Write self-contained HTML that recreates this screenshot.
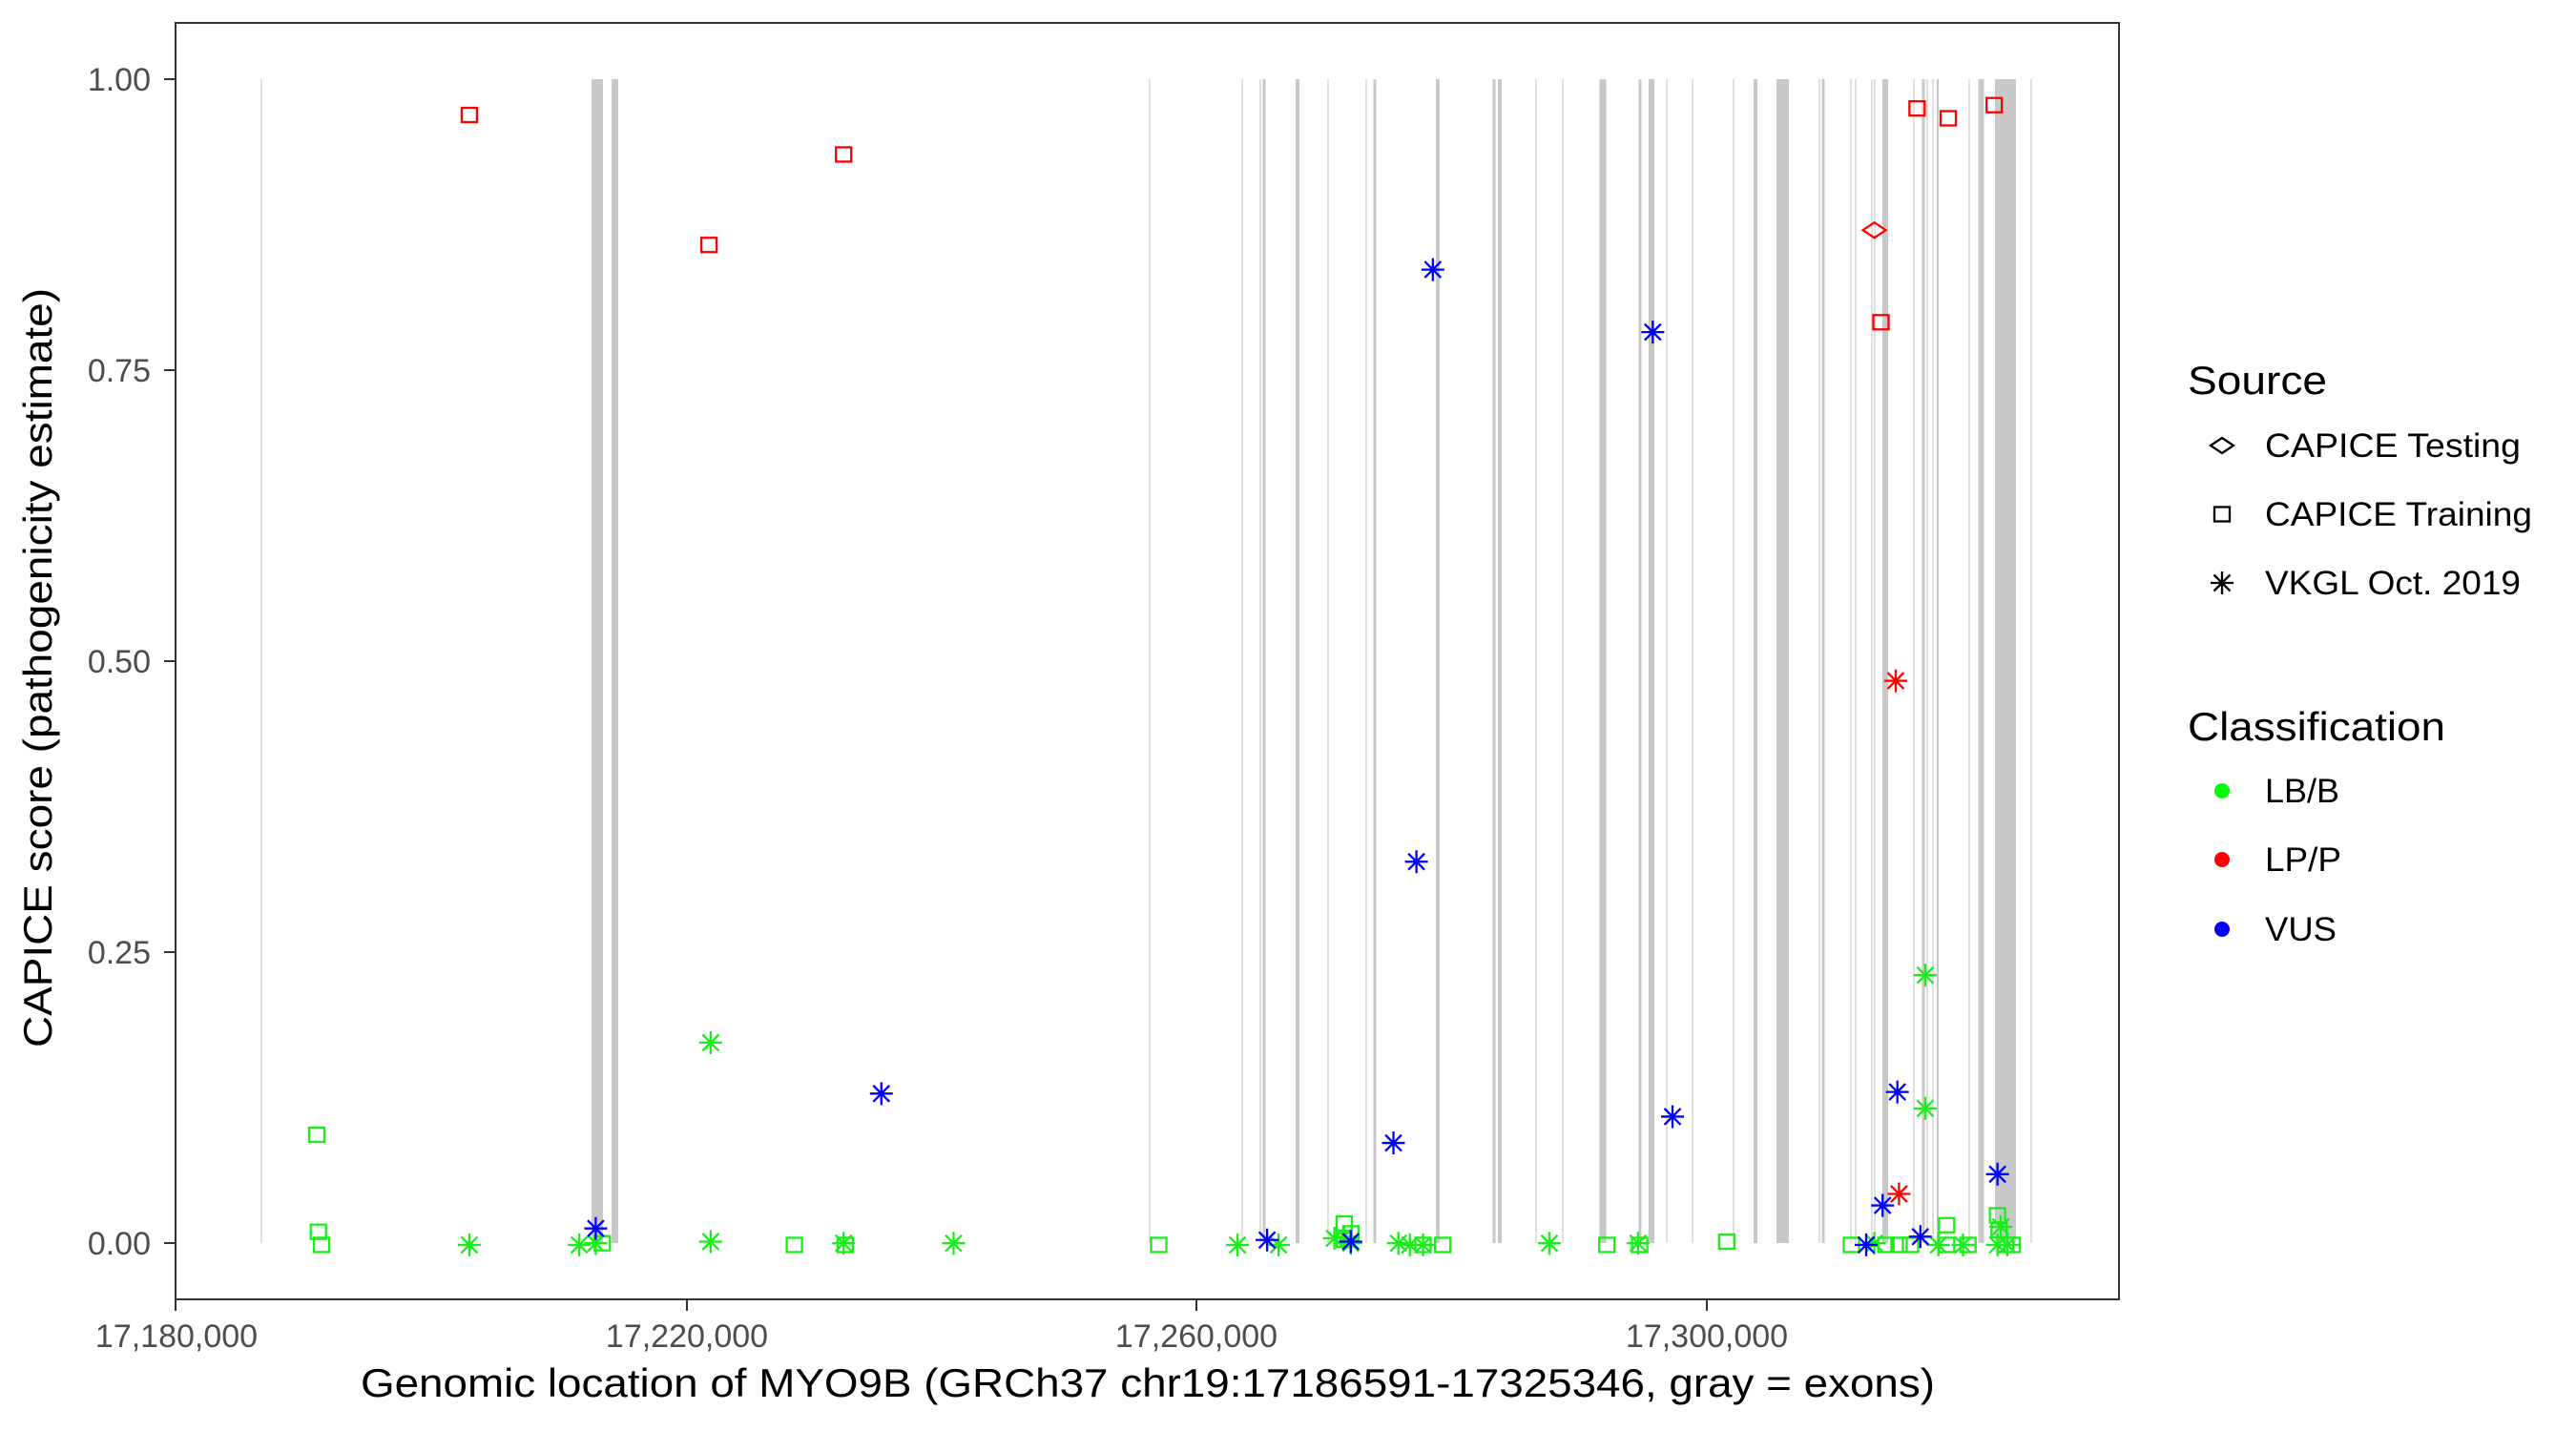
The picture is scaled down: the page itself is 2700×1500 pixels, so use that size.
<!DOCTYPE html>
<html><head><meta charset="utf-8"><style>
html,body{margin:0;padding:0;background:#fff;}
svg{display:block;font-family:"Liberation Sans",Arial,sans-serif;}
</style></head><body>
<svg id="s" width="2700" height="1500" viewBox="0 0 2700 1500" xmlns="http://www.w3.org/2000/svg">
<rect width="2700" height="1500" fill="#fff"/>
<g id="exons"></g>
<g id="pts"></g>
<rect x="184" y="24" width="2037" height="1338" fill="none" stroke="#333" stroke-width="2"/>
<g stroke="#333" stroke-width="2">
<line x1="172" y1="83" x2="184" y2="83"/><line x1="172" y1="388" x2="184" y2="388"/>
<line x1="172" y1="693" x2="184" y2="693"/><line x1="172" y1="998" x2="184" y2="998"/>
<line x1="172" y1="1303" x2="184" y2="1303"/>
<line x1="184" y1="1362" x2="184" y2="1374"/><line x1="720" y1="1362" x2="720" y2="1374"/>
<line x1="1254" y1="1362" x2="1254" y2="1374"/><line x1="1789" y1="1362" x2="1789" y2="1374"/>
</g>
<g font-size="34" fill="#4d4d4d" text-anchor="end">
<text x="158" y="95">1.00</text><text x="158" y="400">0.75</text><text x="158" y="705">0.50</text>
<text x="158" y="1010">0.25</text><text x="158" y="1315">0.00</text>
</g>
<g font-size="34" fill="#4d4d4d" text-anchor="middle">
<text x="185" y="1412">17,180,000</text><text x="720" y="1412">17,220,000</text>
<text x="1254" y="1412">17,260,000</text><text x="1789" y="1412">17,300,000</text>
</g>
<text x="378" y="1464" font-size="42" fill="#000" textLength="1650" lengthAdjust="spacingAndGlyphs">Genomic location of MYO9B (GRCh37 chr19:17186591-17325346, gray = exons)</text>
<text transform="translate(54,1098) rotate(-90)" font-size="42" fill="#000" textLength="796" lengthAdjust="spacingAndGlyphs">CAPICE score (pathogenicity estimate)</text>
<g fill="#000">
<text x="2293" y="413" font-size="42" textLength="146" lengthAdjust="spacingAndGlyphs">Source</text>
<text x="2374" y="479" font-size="35" textLength="268" lengthAdjust="spacingAndGlyphs">CAPICE Testing</text>
<text x="2374" y="551" font-size="35" textLength="280" lengthAdjust="spacingAndGlyphs">CAPICE Training</text>
<text x="2374" y="623" font-size="35" textLength="268" lengthAdjust="spacingAndGlyphs">VKGL Oct. 2019</text>
<text x="2293" y="776" font-size="42" textLength="270" lengthAdjust="spacingAndGlyphs">Classification</text>
<text x="2374" y="841" font-size="35" textLength="78" lengthAdjust="spacingAndGlyphs">LB/B</text>
<text x="2374" y="913" font-size="35" textLength="80" lengthAdjust="spacingAndGlyphs">LP/P</text>
<text x="2374" y="986" font-size="35" textLength="75" lengthAdjust="spacingAndGlyphs">VUS</text>
</g>
<g id="leg"></g>
</svg>
<script>
var NS="http://www.w3.org/2000/svg";
function el(p,t,a){var e=document.createElementNS(NS,t);for(var k in a)e.setAttribute(k,a[k]);p.appendChild(e);return e;}
var ex=document.getElementById("exons");
var exons=[[274,1.5],[626,12],[644.5,7],[1205,1.5],[1302,1.5],[1321,1.5],[1325,3],[1360,4],[1392,1.5],[1432,1.5],[1441,3],[1507,4],[1566,3],[1572,4],[1610,1.5],[1638,1.5],[1680,7],[1719,3],[1731,6],[1747,1.5],[1774,1.5],[1817,1.5],[1840,4],[1868.5,13],[1907,1.5],[1911,3],[1940,1.5],[1945,1.5],[1962,1.5],[1965,1.5],[1976,6],[2006,1.5],[2016,3],[2020,1.5],[2026,1.5],[2031,2],[2064,1.5],[2074,1.5],[2077,5],[2102,22],[2129,1.5]];
exons.forEach(function(e){var w=e[1];el(ex,"rect",{x:e[0]-w/2,y:83,width:w,height:1220,fill:w<2?"#d6d6d6":"#c8c8c8"});});
var pg=document.getElementById("pts");
function X(d){return 184+(d-106)*1.7204;}
function Y(d){return 24+(d-14)*1.724;}
function sq(g,x,y,c){el(g,"rect",{x:x-8,y:y-7.5,width:16,height:15,fill:"none",stroke:c,"stroke-width":2.3});}
function di(g,x,y,c){el(g,"path",{d:"M"+(x-12)+" "+y+"L"+x+" "+(y-8)+"L"+(x+12)+" "+y+"L"+x+" "+(y+8)+"Z",fill:"none",stroke:c,"stroke-width":2.3});}
function st(g,x,y,c){var r=12,a=8.5;el(g,"path",{d:"M"+(x-r)+" "+y+"H"+(x+r)+"M"+x+" "+(y-r)+"V"+(y+r)+"M"+(x-a)+" "+(y-a)+"L"+(x+a)+" "+(y+a)+"M"+(x-a)+" "+(y+a)+"L"+(x+a)+" "+(y-a),stroke:c,"stroke-width":2.3,fill:"none"});}
var R="#ff0000",B="#0000ff",G="#1aee1a";
var gsq=[[192,690],[193,749],[195,757],[366,756],[483,757],[514,757],[705,757],[818,744],[822,750],[818,754],[866,757],[878,757],[978,757],[998,757],[1051,755],[1127,757],[1148,757],[1156,757],[1163,757],[1185,745],[1185,757],[1198,757],[1216,739],[1217,748],[1221,757],[1225,757]];
var gst=[[285,757],[352,757],[362,756],[432,634],[432,755],[513,756],[580,756],[753,757],[778,757],[812,753],[818,752],[822,756],[851,756],[858,757],[866,757],[943,756],[997,756],[1141,756],[1172,593],[1172,674],[1180,757],[1195,757],[1216,757],[1218,746],[1222,757]];
var bst=[[362,747],[536,665],[771,754],[822,755],[848,695],[862,524],[872,164],[1006,202],[1018,679],[1136,757],[1146,733],[1155,664],[1169,752],[1216,714]];
var rsq=[[285,70],[431,149],[513,94],[1145,196],[1167,66],[1186,72],[1214,64]];
gsq.forEach(function(p){sq(pg,X(p[0]),Y(p[1]),G);});
gst.forEach(function(p){st(pg,X(p[0]),Y(p[1]),G);});
bst.forEach(function(p){st(pg,X(p[0]),Y(p[1]),B);});
st(pg,X(1154),Y(414),R);st(pg,X(1156),Y(726),R);
rsq.forEach(function(p){sq(pg,X(p[0]),Y(p[1]),R);});
di(pg,X(1141),Y(140),R);
var lg=document.getElementById("leg");
di(lg,2329,467,"#000");sq(lg,2329,539,"#000");st(lg,2329,611,"#000");
el(lg,"circle",{cx:2329,cy:829,r:8,fill:"#00ff00"});
el(lg,"circle",{cx:2329,cy:901,r:8,fill:"#ff0000"});
el(lg,"circle",{cx:2329,cy:974,r:8,fill:"#0000ff"});
</script>
</body></html>
